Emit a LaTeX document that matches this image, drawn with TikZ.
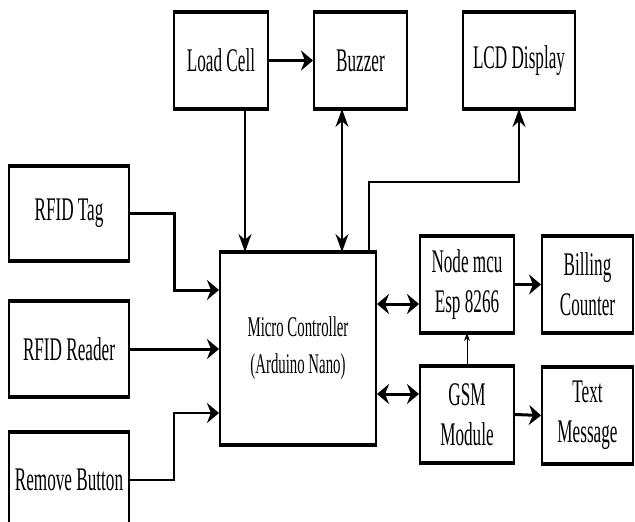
\documentclass[tikz,border=0pt]{standalone}
\usepackage{fontspec}
\setmainfont[FakeStretch=0.52]{Liberation Serif}
\usetikzlibrary{arrows.meta, positioning, calc}

\begin{document}
\begin{tikzpicture}[
  x=1pt, y=-1pt,
  block/.style={rectangle, draw, line width=2pt, minimum width=94pt, minimum height=95pt,
                align=center, inner sep=2pt, font=\fontsize{33}{40}\selectfont,
                append after command={\pgfextra{\let\blk=\tikzlastnode}
                  (\blk.north west) edge[line width=4pt, -] (\blk.north east)
                  (\blk.south west) edge[line width=4pt, -] (\blk.south east)}},
  harrow/.style={-{Stealth[length=12pt, width=20pt]}, line width=3pt},
  hdarrow/.style={{Stealth[length=12pt, width=20pt]}-{Stealth[length=12pt, width=20pt]}, line width=3pt},
  varrow/.style={-{Stealth[length=18pt, width=13pt]}, line width=2pt},
  vdarrow/.style={{Stealth[length=18pt, width=13pt]}-{Stealth[length=18pt, width=13pt]}, line width=2pt},
  thinarrow/.style={-{Stealth[length=8pt, width=6pt]}, line width=0.8pt},
]
  \useasboundingbox (0,0) rectangle (635,522);

  % Top row
  \node[block] (load)    at (221, 60.5)   {Load Cell};
  \node[block, minimum width=93pt] (buzzer) at (360.5, 60.5) {Buzzer};
  \node[block, minimum width=112pt] (lcd)   at (519, 60.5)   {LCD Display};

  % Inputs
  \node[block, minimum width=120pt, minimum height=93pt] (tag)    at (69, 213.5) {RFID Tag};
  \node[block, minimum width=120pt, minimum height=94pt] (reader) at (69, 349)   {RFID Reader};
  \node[block, minimum width=120pt, minimum height=94pt] (remove) at (69, 480)   {Remove Button};

  % Controller
  \node[block, minimum width=156pt, minimum height=191pt,
        font=\fontsize{28.5}{37}\selectfont] (micro) at (298, 348.5)
        {Micro Controller\\(Arduino Nano)};

  % Outputs
  \node[block] (nodemcu) at (467, 284.5)   {Node mcu\\Esp 8266};
  \node[block] (gsm)     at (467, 414.5)   {GSM\\Module};
  \node[block, minimum width=91pt] (billing) at (587.5, 284.5) {Billing\\Counter};
  \node[block, minimum width=91pt] (text)    at (587.5, 415.5) {Text\\Message};

  % Bends
  \coordinate (tagbend) at (174, 290);
  \coordinate (rembend) at (174, 413);
  \coordinate (lcdbend) at (519, 182);
  \coordinate (wifi)    at ($(nodemcu.west)+(0,19.5)$);
  \coordinate (gsmin)   at ($(gsm.west)+(0,-20.5)$);

  % Arrows
  \draw[harrow]  (load) -- (buzzer);
  \draw[varrow]  ([xshift=24pt]load.south) -- ([xshift=24pt]load.south |- micro.north);
  \draw[vdarrow] ([xshift=-18.5pt]buzzer.south) -- ([xshift=-18.5pt]buzzer.south |- micro.north);
  \draw[varrow]  ([xshift=-8pt]micro.north east) |- (lcdbend) -- (lcd.south);
  \draw[harrow]  (tag.east) -| (tagbend) -- (tagbend -| micro.west);
  \draw[harrow]  (reader.east) -- (reader.east -| micro.west);
  \draw[harrow, line width=2pt] (remove.east) -| (rembend) -- (rembend -| micro.west);
  \draw[hdarrow] (wifi -| micro.east) -- (wifi);
  \draw[hdarrow] (gsmin -| micro.east) -- (gsmin);
  \draw[harrow]  (nodemcu.east) -- (billing.west);
  \draw[harrow]  (gsm.east) -- (text.west);
  \draw[thinarrow] (gsm.north) -- (nodemcu.south);
\end{tikzpicture}
\end{document}
